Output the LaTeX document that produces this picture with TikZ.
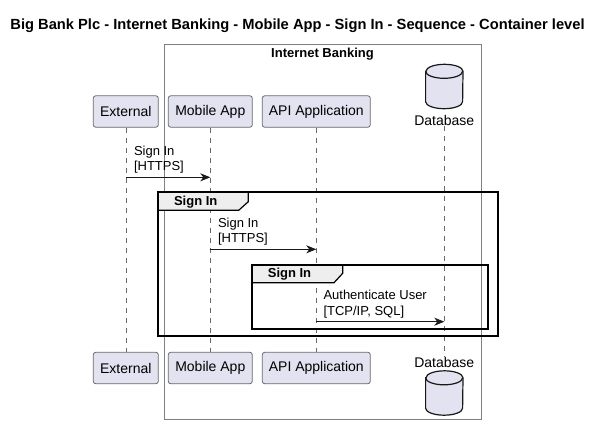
\documentclass[tikz,border=0pt]{standalone}
\usepackage{fontspec}
\setmainfont{Liberation Sans}
\usetikzlibrary{arrows.meta,positioning}

\definecolor{partfill}{HTML}{E2E2F0}
\definecolor{partline}{HTML}{181818}
\definecolor{tabfill}{HTML}{EEEEEE}

% database drum drawn round an empty node
\newcommand{\drawdrum}[1]{%
  \draw[dbshape] ([yshift=-7pt]#1.north west) -- ([yshift=7pt]#1.south west)
    arc[start angle=180, end angle=360, x radius=18.5pt, y radius=7pt]
    -- ([yshift=-7pt]#1.north east)
    arc[start angle=0, end angle=180, x radius=18.5pt, y radius=7pt] -- cycle;
  \draw[dbshape, fill=none] ([yshift=-7pt]#1.north west)
    arc[start angle=180, end angle=360, x radius=18.5pt, y radius=7pt];
}

\begin{document}
\begin{tikzpicture}[
    x=1pt, y=-1pt,
    participant/.style={rectangle, draw=partline!65, fill=partfill, line width=0.8pt, rounded corners=2.5pt, minimum height=31.5pt, inner sep=0pt, font=\fontsize{14}{16}\selectfont},
    dbbox/.style={rectangle, inner sep=0pt, minimum width=37pt, minimum height=44pt},
    dbshape/.style={draw=partline, fill=partfill, line width=1.2pt},
    dblabel/.style={inner sep=0pt, font=\fontsize{14}{16}\selectfont},
    lifeline/.style={draw=partline!65, dash pattern=on 5pt off 5pt, line width=0.6pt},
    msg/.style={-{Stealth[length=10pt, width=8pt, inset=3pt]}, draw=partline, line width=0.9pt},
    msglabel/.style={anchor=south west, inner sep=0pt, align=left, font=\fontsize{13}{15.5}\selectfont},
    grpframe/.style={draw=black, line width=1.8pt},
    grptab/.style={draw=black, fill=tabfill, line width=1.2pt},
    grplabel/.style={inner sep=0pt, font=\bfseries\fontsize{13}{15}\selectfont},
    container/.style={draw=black!50, line width=0.9pt}
]
    \useasboundingbox (0,0) rectangle (602,431);

    % Title and container box
    \node[font=\bfseries\fontsize{14.7}{16}\selectfont] (title) at (297.5,26) {Big Bank Plc - Internet Banking - Mobile App - Sign In - Sequence - Container level};
    \draw[container] (164.3,44) rectangle (481,419);
    \node[grplabel] (ibtitle) at (322.5,54) {Internet Banking};

    % Participants (top)
    \node[participant, minimum width=65pt] (extT) at (125.8,111.5) {External};
    \node[participant, minimum width=84pt] (appT) at (210.3,111.5) {Mobile App};
    \node[participant, minimum width=108pt] (apiT) at (316.3,111.5) {API Application};
    \node[dbbox] (dbT) at (444.3,86.5) {};
    \node[dblabel] (dbTlbl) at (444.3,120.5) {Database};

    % Participants (bottom)
    \node[participant, minimum width=65pt] (extB) at (125.8,368) {External};
    \node[participant, minimum width=84pt] (appB) at (210.3,368) {Mobile App};
    \node[participant, minimum width=108pt] (apiB) at (316.3,368) {API Application};
    \node[dblabel] (dbBlbl) at (444.3,362.3) {Database};
    \node[dbbox] (dbB) at (444.3,393) {};

    \drawdrum{dbT}
    \drawdrum{dbB}

    % Lifelines
    \draw[lifeline] (extT.south) -- (extB.north);
    \draw[lifeline] (appT.south) -- (appB.north);
    \draw[lifeline] (apiT.south) -- (apiB.north);
    \draw[lifeline] (dbTlbl.south) -- (dbBlbl.north);

    % Groups
    \draw[grptab] (158.3,192.3) -- (248.3,192.3) -- (248.3,201.7) -- (238.7,210.3) -- (158.3,210.3) -- cycle;
    \draw[grpframe] (158.3,192.3) rectangle (497.7,336);
    \node[grplabel] (outerlbl) at (195.7,202) {Sign In};

    \draw[grptab] (252,264.7) -- (342.7,264.7) -- (342.7,273.3) -- (334,282.7) -- (252,282.7) -- cycle;
    \draw[grpframe] (252,264.7) rectangle (487.7,329.3);
    \node[grplabel] (innerlbl) at (289.5,274) {Sign In};

    % Messages
    \coordinate (m1a) at (125.8,177.3);
    \coordinate (m1b) at (210.3,177.3);
    \coordinate (m2a) at (210.3,249.3);
    \coordinate (m2b) at (316.3,249.3);
    \coordinate (m3a) at (316.3,321.7);
    \coordinate (m3b) at (444.3,321.7);

    \draw[msg] (m1a) -- (m1b);
    \node[msglabel] (m1lbl) at ([xshift=8pt, yshift=3.5pt]m1a) {Sign In\\{[HTTPS]}};
    \draw[msg] (m2a) -- (m2b);
    \node[msglabel] (m2lbl) at ([xshift=7.5pt, yshift=3.5pt]m2a) {Sign In\\{[HTTPS]}};
    \draw[msg] (m3a) -- (m3b);
    \node[msglabel] (m3lbl) at ([xshift=7pt, yshift=3.5pt]m3a) {Authenticate User\\{[TCP/IP, SQL]}};
\end{tikzpicture}
\end{document}
